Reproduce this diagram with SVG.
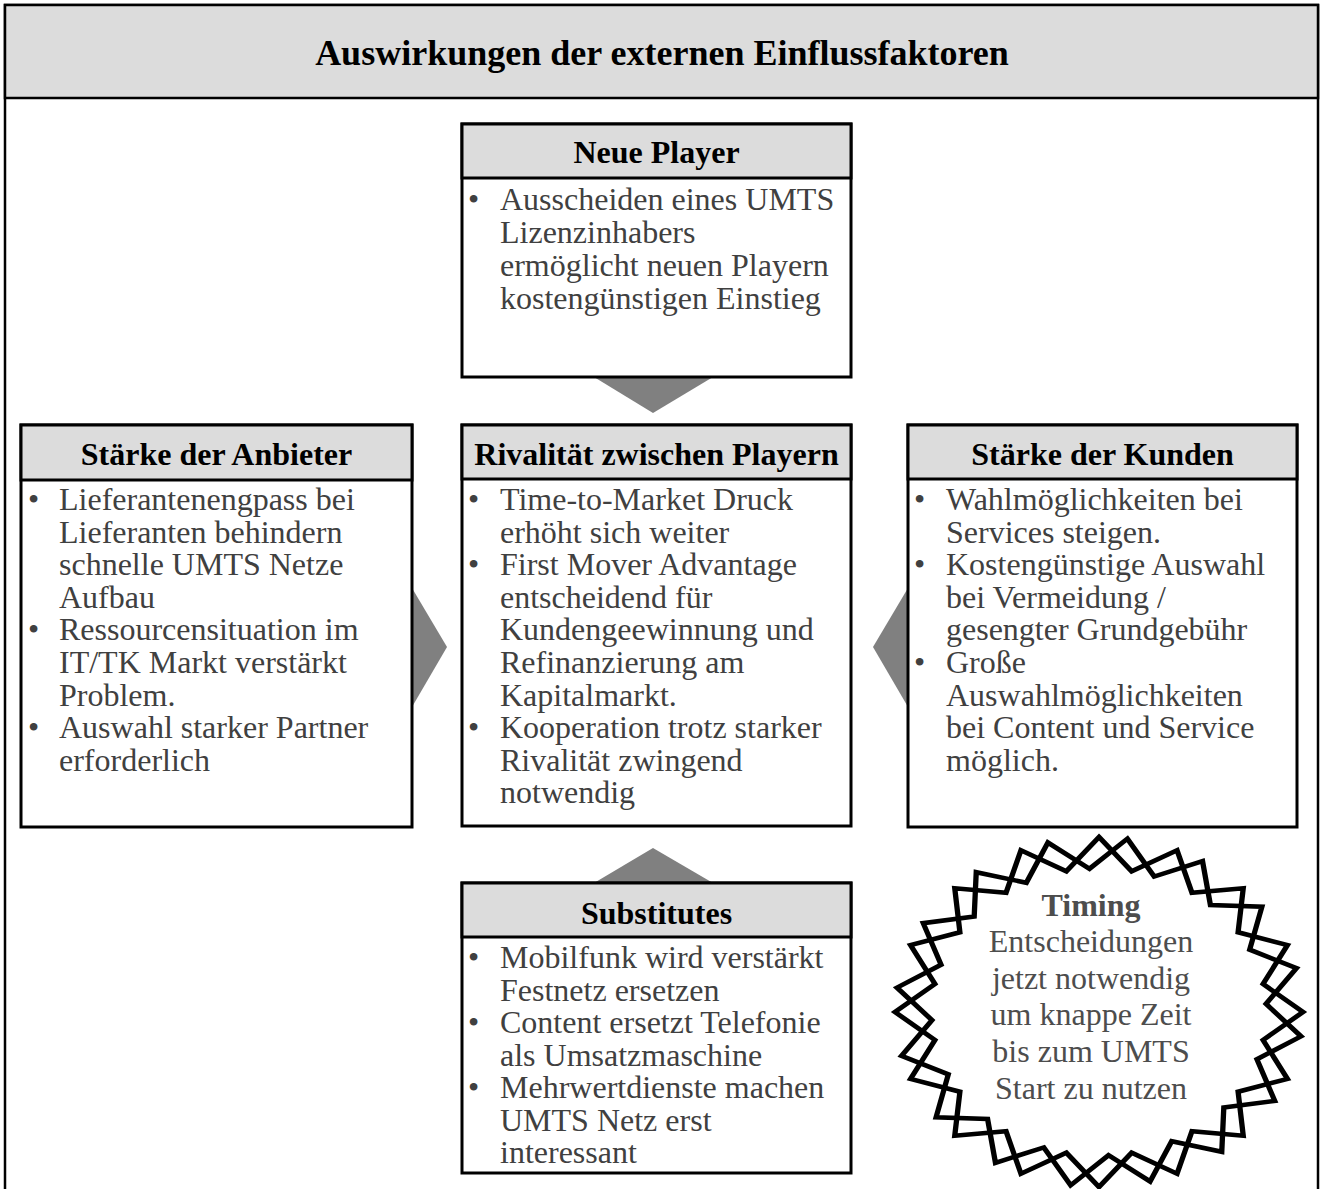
<svg xmlns="http://www.w3.org/2000/svg" width="1320" height="1189" viewBox="0 0 1320 1189">
<style>
.frame{fill:#ffffff;stroke:#000;stroke-width:2.5}
.hdrbar{fill:#dcdcdc;stroke:#000;stroke-width:2.5}
.box{fill:#ffffff;stroke:#000;stroke-width:3}
.hd{fill:#dcdcdc;stroke:#000;stroke-width:3}
.arrow{fill:#808080;stroke:none}
.title{font-family:"Liberation Serif","Times New Roman",serif;font-weight:bold;font-size:36px;fill:#000;text-anchor:middle}
.ht{font-family:"Liberation Serif","Times New Roman",serif;font-weight:bold;font-size:32px;fill:#000;text-anchor:middle}
.bt{font-family:"Liberation Serif","Times New Roman",serif;font-size:32px;fill:#404040}
.star{fill:none;stroke:#000;stroke-width:2.6;stroke-linejoin:miter;vector-effect:non-scaling-stroke}
.tt{font-family:"Liberation Serif","Times New Roman",serif;font-size:32px;fill:#4d4d4d;text-anchor:middle}
</style>
<defs>
<polygon id="starpoly" points="0,-100 16,-80.42 38.27,-92.39 45.56,-68.18 70.71,-70.71 68.18,-45.56 92.39,-38.27 80.42,-16 100,0 80.42,16 92.39,38.27 68.18,45.56 70.71,70.71 45.56,68.18 38.27,92.39 16,80.42 0,100 -16,80.42 -38.27,92.39 -45.56,68.18 -70.71,70.71 -68.18,45.56 -92.39,38.27 -80.42,16 -100,0 -80.42,-16 -92.39,-38.27 -68.18,-45.56 -70.71,-70.71 -45.56,-68.18 -38.27,-92.39 -16,-80.42"/>
</defs>

<g id="frame">
<rect class="frame" x="5" y="5" width="1313" height="1200"/>
<rect class="hdrbar" x="5" y="5" width="1313" height="93"/>
<text class="title" x="662" y="65">Auswirkungen der externen Einflussfaktoren</text>
</g>

<g id="connectors">
<polygon class="arrow" points="594,377 713,377 653,413"/>
<polygon class="arrow" points="594,883 713,883 653,848"/>
<polygon class="arrow" points="412,588 412,707 447,647"/>
<polygon class="arrow" points="908,588 908,707 873,647"/>
</g>

<g id="neue-player">
<rect class="box" x="462" y="124" width="389" height="253"/>
<rect class="hd" x="462" y="124" width="389" height="54"/>
<text class="ht" x="656.5" y="163">Neue Player</text>
<text class="bt"><tspan x="468" y="210">•</tspan><tspan x="500" y="210">Ausscheiden eines UMTS</tspan><tspan x="500" y="243">Lizenzinhabers</tspan><tspan x="500" y="276">ermöglicht neuen Playern</tspan><tspan x="500" y="309">kostengünstigen Einstieg</tspan></text>
</g>

<g id="staerke-anbieter">
<rect class="box" x="21" y="425" width="391" height="402"/>
<rect class="hd" x="21" y="425" width="391" height="55"/>
<text class="ht" x="216.5" y="465">Stärke der Anbieter</text>
<text class="bt"><tspan x="28" y="510">•</tspan><tspan x="59" y="510">Lieferantenengpass bei</tspan><tspan x="59" y="543">Lieferanten behindern</tspan><tspan x="59" y="575">schnelle UMTS Netze</tspan><tspan x="59" y="608">Aufbau</tspan><tspan x="28" y="640">•</tspan><tspan x="59" y="640">Ressourcensituation im</tspan><tspan x="59" y="673">IT/TK Markt verstärkt</tspan><tspan x="59" y="706">Problem.</tspan><tspan x="28" y="738">•</tspan><tspan x="59" y="738">Auswahl starker Partner</tspan><tspan x="59" y="771">erforderlich</tspan></text>
</g>

<g id="rivalitaet">
<rect class="box" x="462" y="425" width="389" height="401"/>
<rect class="hd" x="462" y="425" width="389" height="54"/>
<text class="ht" x="656.5" y="465">Rivalität zwischen Playern</text>
<text class="bt"><tspan x="468" y="510">•</tspan><tspan x="500" y="510">Time-to-Market Druck</tspan><tspan x="500" y="543">erhöht sich weiter</tspan><tspan x="468" y="575">•</tspan><tspan x="500" y="575">First Mover Advantage</tspan><tspan x="500" y="608">entscheidend für</tspan><tspan x="500" y="640">Kundengeewinnung und</tspan><tspan x="500" y="673">Refinanzierung am</tspan><tspan x="500" y="706">Kapitalmarkt.</tspan><tspan x="468" y="738">•</tspan><tspan x="500" y="738">Kooperation trotz starker</tspan><tspan x="500" y="771">Rivalität zwingend</tspan><tspan x="500" y="803">notwendig</tspan></text>
</g>

<g id="staerke-kunden">
<rect class="box" x="908" y="425" width="389" height="402"/>
<rect class="hd" x="908" y="425" width="389" height="54"/>
<text class="ht" x="1102.5" y="465">Stärke der Kunden</text>
<text class="bt"><tspan x="914" y="510">•</tspan><tspan x="946" y="510">Wahlmöglichkeiten bei</tspan><tspan x="946" y="543">Services steigen.</tspan><tspan x="914" y="575">•</tspan><tspan x="946" y="575">Kostengünstige Auswahl</tspan><tspan x="946" y="608">bei Vermeidung /</tspan><tspan x="946" y="640">gesengter Grundgebühr</tspan><tspan x="914" y="673">•</tspan><tspan x="946" y="673">Große</tspan><tspan x="946" y="706">Auswahlmöglichkeiten</tspan><tspan x="946" y="738">bei Content und Service</tspan><tspan x="946" y="771">möglich.</tspan></text>
</g>

<g id="substitutes">
<rect class="box" x="462" y="883" width="389" height="290"/>
<rect class="hd" x="462" y="883" width="389" height="54"/>
<text class="ht" x="656.5" y="924">Substitutes</text>
<text class="bt"><tspan x="468" y="968">•</tspan><tspan x="500" y="968">Mobilfunk wird verstärkt</tspan><tspan x="500" y="1001">Festnetz ersetzen</tspan><tspan x="468" y="1033">•</tspan><tspan x="500" y="1033">Content ersetzt Telefonie</tspan><tspan x="500" y="1066">als Umsatzmaschine</tspan><tspan x="468" y="1098">•</tspan><tspan x="500" y="1098">Mehrwertdienste machen</tspan><tspan x="500" y="1131">UMTS Netz erst</tspan><tspan x="500" y="1163">interessant</tspan></text>
</g>

<g id="timing">
<use href="#starpoly" class="star" transform="translate(1099 1012) scale(2.04 1.75)"/>
<use href="#starpoly" class="star" transform="translate(1099 1012) scale(2.04 1.75) rotate(8)"/>
<text class="tt" x="1091" y="916" font-weight="bold">Timing</text>
<text class="tt"><tspan x="1091" y="952">Entscheidungen</tspan><tspan x="1091" y="989">jetzt notwendig</tspan><tspan x="1091" y="1025">um knappe Zeit</tspan><tspan x="1091" y="1062">bis zum UMTS</tspan><tspan x="1091" y="1099">Start zu nutzen</tspan></text>
</g>
</svg>
